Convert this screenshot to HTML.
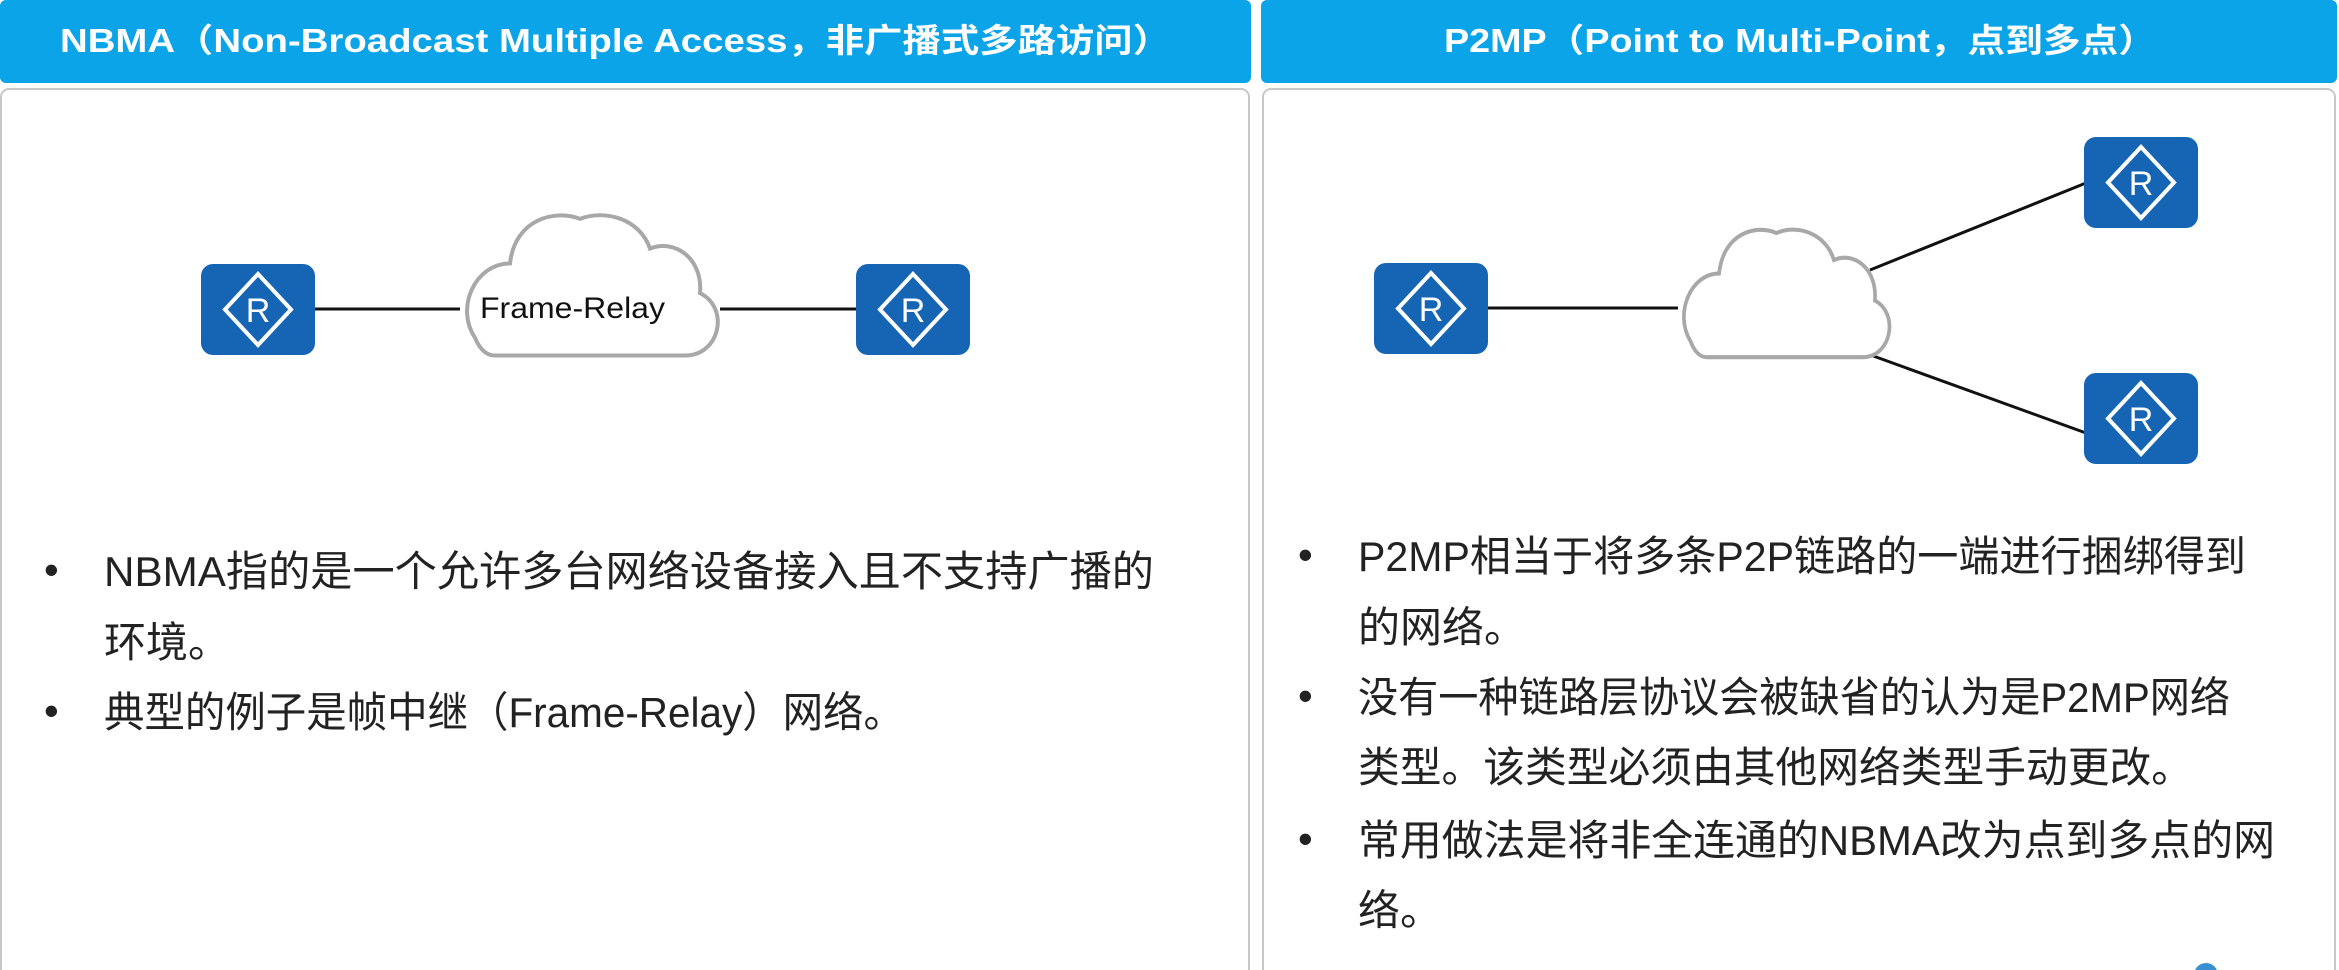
<!DOCTYPE html>
<html><head><meta charset="utf-8"><style>
html,body{margin:0;padding:0;background:#fff;}
svg{display:block;}
text{font-family:"Liberation Sans","Noto Sans CJK SC",sans-serif;}
</style></head><body>
<svg width="2339" height="970" viewBox="0 0 2339 970" xmlns="http://www.w3.org/2000/svg">
<defs>
<g id="rt">
<rect x="0" y="0" width="114" height="91" rx="12" fill="#1565b4"/>
<path d="M57 10 L90 45.5 L57 81 L24 45.5 Z" fill="none" stroke="#fff" stroke-width="4"/>
<text x="57" y="58" font-size="34" fill="#fff" text-anchor="middle" font-family="Liberation Sans,sans-serif">R</text>
</g>
<path id="cl" d="M40,148 L230,148 C265,148 275,100 245,85 C248,50 220,30 195,40 C185,10 150,0 125,10 C100,0 60,10 55,55 C20,55 0,100 20,130 C25,142 32,148 40,148 Z"/>
</defs>
<!-- headers -->
<rect x="0" y="0" width="1251" height="83" rx="6" fill="#0ba4e8"/>
<rect x="1261" y="0" width="1076" height="83" rx="6" fill="#0ba4e8"/>
<text x="60" y="52" font-size="33" font-weight="bold" fill="#fff" textLength="1111" lengthAdjust="spacingAndGlyphs">NBMA（Non-Broadcast Multiple Access，非广播式多路访问）</text>
<text x="1444" y="52" font-size="33" font-weight="bold" fill="#fff" textLength="712" lengthAdjust="spacingAndGlyphs">P2MP（Point to Multi-Point，点到多点）</text>
<!-- panels -->
<rect x="1" y="89" width="1248" height="890" rx="8" fill="#fff" stroke="#c8c8c8" stroke-width="2"/>
<rect x="1263" y="89" width="1072" height="890" rx="8" fill="#fff" stroke="#c8c8c8" stroke-width="2"/>
<!-- left diagram -->
<line x1="315" y1="309" x2="460" y2="309" stroke="#111" stroke-width="3"/>
<line x1="720" y1="309" x2="856" y2="309" stroke="#111" stroke-width="3"/>
<use href="#cl" transform="translate(455,209) scale(1.0,0.99)" fill="#fff" stroke="#a8a8a8" stroke-width="4"/>
<text x="480" y="318" font-size="30" fill="#111" textLength="185" lengthAdjust="spacingAndGlyphs">Frame-Relay</text>
<use href="#rt" x="201" y="264"/>
<use href="#rt" x="856" y="264"/>
<!-- right diagram -->
<line x1="1488" y1="308" x2="1678" y2="308" stroke="#111" stroke-width="3"/>
<line x1="1870" y1="270" x2="2086" y2="183" stroke="#111" stroke-width="3"/>
<line x1="1865" y1="353" x2="2086" y2="433" stroke="#111" stroke-width="3"/>
<use href="#cl" transform="translate(1674,224) scale(0.82,0.9)" fill="#fff" stroke="#a8a8a8" stroke-width="4.5"/>
<use href="#rt" x="1374" y="263"/>
<use href="#rt" x="2084" y="137"/>
<use href="#rt" x="2084" y="373"/>
<!-- left bullets -->
<g font-size="42" fill="#222">
<text x="44" y="584">•</text>
<text x="104" y="586" textLength="1050" lengthAdjust="spacingAndGlyphs">NBMA指的是一个允许多台网络设备接入且不支持广播的</text>
<text x="104" y="657">环境。</text>
<text x="44" y="725">•</text>
<text x="104" y="727" textLength="800" lengthAdjust="spacingAndGlyphs">典型的例子是帧中继（Frame-Relay）网络。</text>
</g>
<!-- right bullets -->
<g font-size="42" fill="#222">
<text x="1298" y="569">•</text>
<text x="1358" y="571" textLength="888" lengthAdjust="spacingAndGlyphs">P2MP相当于将多条P2P链路的一端进行捆绑得到</text>
<text x="1358" y="642">的网络。</text>
<text x="1298" y="710">•</text>
<text x="1358" y="712" textLength="872" lengthAdjust="spacingAndGlyphs">没有一种链路层协议会被缺省的认为是P2MP网络</text>
<text x="1358" y="782" textLength="835" lengthAdjust="spacingAndGlyphs">类型。该类型必须由其他网络类型手动更改。</text>
<text x="1298" y="853">•</text>
<text x="1358" y="855" textLength="917" lengthAdjust="spacingAndGlyphs">常用做法是将非全连通的NBMA改为点到多点的网</text>
<text x="1358" y="925">络。</text>
</g>
<circle cx="2206" cy="975" r="12" fill="#3a8fd0"/>
</svg>
</body></html>
